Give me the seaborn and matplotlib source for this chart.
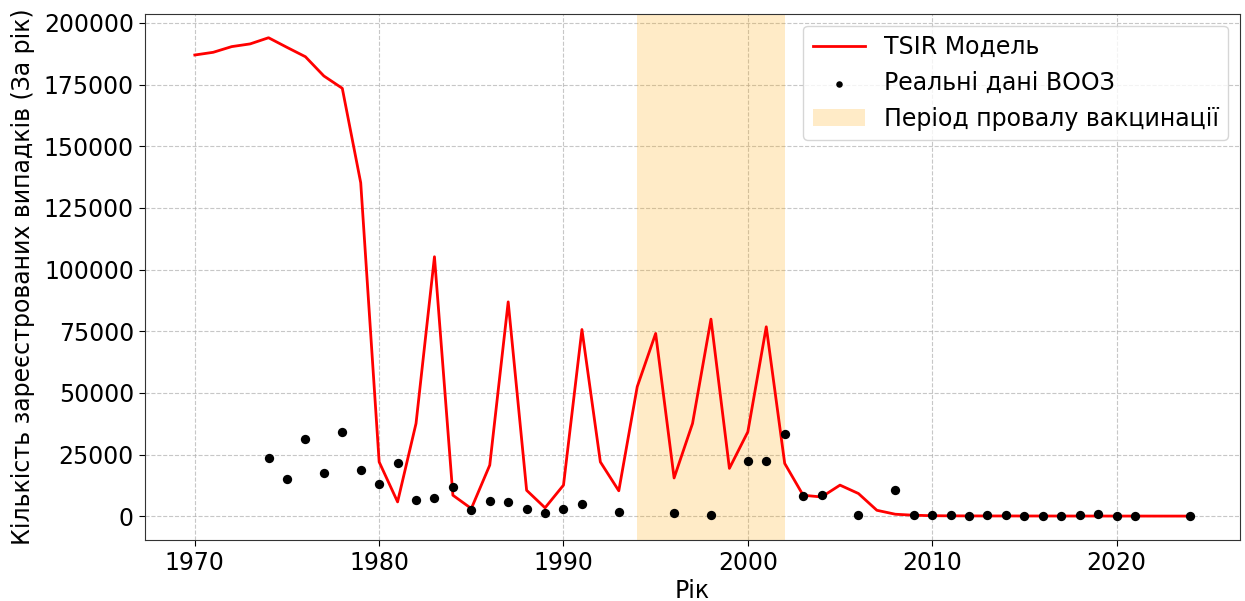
import matplotlib
matplotlib.use("Agg")
import matplotlib.pyplot as plt
import seaborn as sns
import pandas as pd

# TSIR model output (annual cases)
model_years = list(range(1970, 2025))
model_cases = [
    187000, 188100, 190400, 191500, 194000, 190100, 186300, 178500, 173500, 135200,
    22000, 5800, 37600, 105200, 8500, 3100, 20700, 86900, 10500, 3400,
    12600, 75700, 22000, 10300, 52500, 74100, 15500, 37600, 79900, 19400,
    34200, 76800, 21400, 8500, 7800, 12600, 9200, 2400, 800, 400,
    200, 150, 120, 100, 100, 90, 80, 80, 70, 70,
    60, 60, 50, 50, 50,
]

# WHO reported cases
who_years = [1974, 1975, 1976, 1977, 1978, 1979, 1980, 1981, 1982, 1983,
             1984, 1985, 1986, 1987, 1988, 1989, 1990, 1991, 1993, 1996,
             1998, 2000, 2001, 2002, 2003, 2004, 2006, 2008, 2009, 2010,
             2011, 2012, 2013, 2014, 2015, 2016, 2017, 2018, 2019, 2020,
             2021, 2024]
who_cases = [23800, 15000, 31200, 17700, 34200, 18700, 13000, 21400, 6500, 7200,
             11900, 2700, 6100, 5600, 2800, 1300, 3100, 5100, 1600, 1100,
             600, 22300, 22300, 33500, 8100, 8500, 400, 10800, 400, 300,
             300, 200, 300, 400, 50, 100, 200, 300, 700, 50,
             50, 50]

# Vaccination failure period
fail_start, fail_end = 1994, 2002

model_df = pd.DataFrame({"year": model_years, "cases": model_cases})
who_df = pd.DataFrame({"year": who_years, "cases": who_cases})

plt.rcParams["font.family"] = ["DejaVu Sans"]
fig, ax = plt.subplots(figsize=(12.45, 6.01), dpi=100)
fig.subplots_adjust(left=0.1165, right=0.996, top=0.977, bottom=0.1015)

sns.lineplot(data=model_df, x="year", y="cases", color="red", linewidth=2,
             label="TSIR Модель", ax=ax)
sns.scatterplot(data=who_df, x="year", y="cases", color="black", s=45,
                edgecolor="black", linewidth=0, label="Реальні дані ВООЗ",
                ax=ax, zorder=3)
ax.axvspan(fail_start, fail_end, color="orange", alpha=0.22, linewidth=0,
           label="Період провалу вакцинації")

ax.set_xlabel("Рік", fontsize=17, labelpad=3)
ax.set_ylabel("Кількість зареєстрованих випадків (За рік)", fontsize=17,
              labelpad=6)
ax.tick_params(labelsize=17, length=4.5)
for sp in ax.spines.values():
    sp.set_color("#333333")
ax.grid(True, linestyle="--", color="#b0b0b0", alpha=0.7, linewidth=0.8)
ax.set_axisbelow(True)
ax.set_yticks([0, 25000, 50000, 75000, 100000, 125000, 150000, 175000, 200000])
ax.set_xticks([1970, 1980, 1990, 2000, 2010, 2020])

ax.legend(loc="upper right", fontsize=17, markerscale=0.7, handlelength=2.2)

fig.savefig("out.png", dpi=100)
